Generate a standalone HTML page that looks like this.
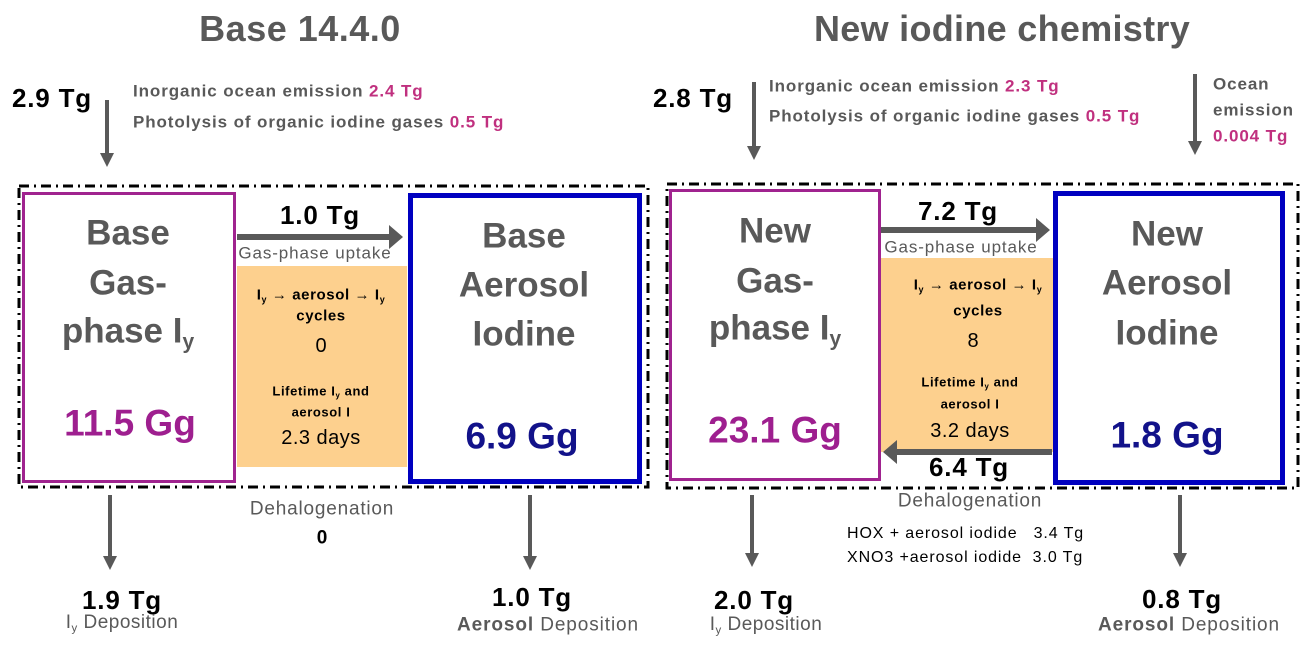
<!DOCTYPE html>
<html><head><meta charset="utf-8"><style>
body{margin:0;width:1307px;height:655px;background:#fff;position:relative;overflow:hidden;font-family:"Liberation Sans",sans-serif;}
.t{position:absolute;white-space:nowrap;line-height:1;transform:translateY(-50%);}
.c{transform:translate(-50%,-50%);text-align:center;}
.b{font-weight:bold;}
.g{color:#595959;}
.p{color:#C0307F;}
.big{font-size:35px;font-weight:bold;color:#595959;}
sub{font-size:60%;vertical-align:-0.3em;}
.s{font-size:17px;letter-spacing:0.9px;}
.o1{font-size:15px;letter-spacing:0.6px;}
.o2{font-size:13px;letter-spacing:0.6px;}
.n{font-size:26px;letter-spacing:0.8px;font-weight:bold;}
</style></head><body>
<svg width="1307" height="655" style="position:absolute;left:0;top:0">
<rect x="19" y="186" width="629" height="301" fill="none" stroke="#000" stroke-width="3" stroke-dasharray="10 5 2 5"/>
<rect x="667" y="184" width="631" height="304" fill="none" stroke="#000" stroke-width="3" stroke-dasharray="10 5 2 5"/>
<rect x="237" y="266" width="170" height="201" fill="#FDD08E"/>
<rect x="881" y="258" width="172" height="194" fill="#FDD08E"/>
<rect x="23.5" y="193.5" width="211" height="288" fill="#fff" stroke="#A0238F" stroke-width="3"/>
<rect x="410.5" y="195.5" width="229" height="286" fill="#fff" stroke="#0000C0" stroke-width="5"/>
<rect x="670.5" y="190.5" width="209" height="289" fill="#fff" stroke="#A0238F" stroke-width="3"/>
<rect x="1055.5" y="193.5" width="227" height="289" fill="#fff" stroke="#0000C0" stroke-width="5"/>
<g fill="#595959">
<path d="M237 234h152v-9l14 12-14 12v-9h-152z"/>
<path d="M881 227h155v-9l14 12-14 12v-9h-155z"/>
<path d="M1052 449h-155v-9l-14 12 14 12v-9h155z"/>
</g>
<g stroke="#595959" stroke-width="4" fill="#595959">
<line x1="107" y1="100" x2="107" y2="155"/><path d="M100 153h14l-7 14z" stroke="none"/>
<line x1="754" y1="82" x2="754" y2="148"/><path d="M747 146h14l-7 14z" stroke="none"/>
<line x1="1195" y1="74" x2="1195" y2="143"/><path d="M1188 141h14l-7 14z" stroke="none"/>
<line x1="110" y1="495" x2="110" y2="558"/><path d="M103 556h14l-7 14z" stroke="none"/>
<line x1="530" y1="495" x2="530" y2="558"/><path d="M523 556h14l-7 14z" stroke="none"/>
<line x1="752" y1="495" x2="752" y2="555"/><path d="M745 553h14l-7 14z" stroke="none"/>
<line x1="1180" y1="495" x2="1180" y2="555"/><path d="M1173 553h14l-7 14z" stroke="none"/>
</g>
</svg>

<div class="t c b g" style="left:300px;top:29px;font-size:36px;letter-spacing:0.5px">Base 14.4.0</div>
<div class="t c b g" style="left:1002px;top:29px;font-size:36px;letter-spacing:0.3px">New iodine chemistry</div>

<div class="t n" style="left:12px;top:98px">2.9 Tg</div>
<div class="t b g s" style="left:133px;top:91px">Inorganic ocean emission <span class="p">2.4 Tg</span></div>
<div class="t b g s" style="left:133px;top:122px">Photolysis of organic iodine gases <span class="p">0.5 Tg</span></div>
<div class="t n" style="left:653px;top:98px">2.8 Tg</div>
<div class="t b g s" style="left:769px;top:86px">Inorganic ocean emission <span class="p">2.3 Tg</span></div>
<div class="t b g s" style="left:769px;top:116px">Photolysis of organic iodine gases <span class="p">0.5 Tg</span></div>
<div class="t b g s" style="left:1213px;top:84px">Ocean</div>
<div class="t b g s" style="left:1213px;top:110px">emission</div>
<div class="t b p s" style="left:1213px;top:136px">0.004 Tg</div>

<div class="t c big" style="left:128px;top:233px">Base</div>
<div class="t c big" style="left:128px;top:283px">Gas-</div>
<div class="t c big" style="left:128px;top:333px">phase I<sub>y</sub></div>
<div class="t c b" style="left:130px;top:423px;font-size:37px;color:#9E1F8F">11.5 Gg</div>
<div class="t c big" style="left:524px;top:236px">Base</div>
<div class="t c big" style="left:524px;top:285px">Aerosol</div>
<div class="t c big" style="left:524px;top:334px">Iodine</div>
<div class="t c b" style="left:522px;top:436px;font-size:37px;color:#12128A">6.9 Gg</div>
<div class="t c n" style="left:320px;top:215px">1.0 Tg</div>
<div class="t c g s" style="left:315px;top:253px">Gas-phase uptake</div>
<div class="t c b o1" style="left:321px;top:296px">I<sub>y</sub> → aerosol → I<sub>y</sub></div>
<div class="t c b o1" style="left:321px;top:316px">cycles</div>
<div class="t c" style="left:321px;top:346px;font-size:20px">0</div>
<div class="t c b o2" style="left:321px;top:392px">Lifetime I<sub>y</sub> and</div>
<div class="t c b o2" style="left:321px;top:412px">aerosol I</div>
<div class="t c" style="left:321px;top:438px;font-size:20px;letter-spacing:0.5px">2.3 days</div>
<div class="t c g" style="left:322px;top:509px;font-size:19px;letter-spacing:0.8px">Dehalogenation</div>
<div class="t c b" style="left:322px;top:538px;font-size:19px">0</div>
<div class="t c n" style="left:122px;top:600px">1.9 Tg</div>
<div class="t c g" style="left:122px;top:624px;font-size:19px;letter-spacing:0.5px">I<sub>y</sub> Deposition</div>
<div class="t c n" style="left:532px;top:597px">1.0 Tg</div>
<div class="t c g" style="left:548px;top:625px;font-size:19px;letter-spacing:0.9px"><b>Aerosol</b> Deposition</div>

<div class="t c big" style="left:775px;top:231px">New</div>
<div class="t c big" style="left:775px;top:281px">Gas-</div>
<div class="t c big" style="left:775px;top:330px">phase I<sub>y</sub></div>
<div class="t c b" style="left:775px;top:430px;font-size:37px;color:#9E1F8F">23.1 Gg</div>
<div class="t c big" style="left:1167px;top:234px">New</div>
<div class="t c big" style="left:1167px;top:283px">Aerosol</div>
<div class="t c big" style="left:1167px;top:333px">Iodine</div>
<div class="t c b" style="left:1167px;top:435px;font-size:37px;color:#12128A">1.8 Gg</div>
<div class="t c n" style="left:958px;top:211px">7.2 Tg</div>
<div class="t c g s" style="left:961px;top:247px">Gas-phase uptake</div>
<div class="t c b o1" style="left:978px;top:286px">I<sub>y</sub> → aerosol → I<sub>y</sub></div>
<div class="t c b o1" style="left:978px;top:311px">cycles</div>
<div class="t c" style="left:973px;top:341px;font-size:20px">8</div>
<div class="t c b o2" style="left:970px;top:383px">Lifetime I<sub>y</sub> and</div>
<div class="t c b o2" style="left:970px;top:404px">aerosol I</div>
<div class="t c" style="left:970px;top:431px;font-size:20px;letter-spacing:0.5px">3.2 days</div>
<div class="t c n" style="left:969px;top:467px">6.4 Tg</div>
<div class="t c g" style="left:970px;top:501px;font-size:19px;letter-spacing:0.8px">Dehalogenation</div>
<div class="t" style="left:847px;top:534px;font-size:16px;letter-spacing:0.9px">HOX + aerosol iodide &nbsp; 3.4 Tg</div>
<div class="t" style="left:847px;top:558px;font-size:16px;letter-spacing:0.9px">XNO3 +aerosol iodide &nbsp;3.0 Tg</div>
<div class="t c n" style="left:754px;top:600px">2.0 Tg</div>
<div class="t c g" style="left:766px;top:626px;font-size:19px;letter-spacing:0.5px">I<sub>y</sub> Deposition</div>
<div class="t c n" style="left:1182px;top:599px">0.8 Tg</div>
<div class="t c g" style="left:1189px;top:625px;font-size:19px;letter-spacing:0.9px"><b>Aerosol</b> Deposition</div>
</body></html>
